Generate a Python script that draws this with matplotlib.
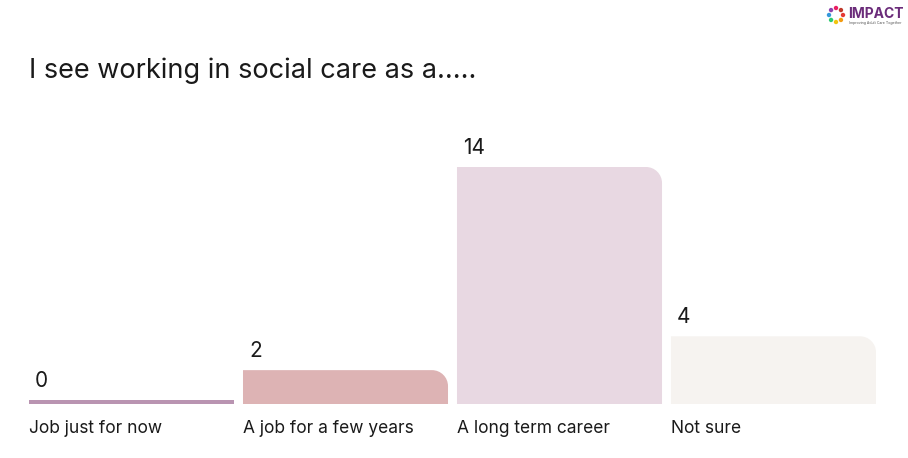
import numpy as np
import matplotlib.pyplot as plt
from matplotlib.path import Path
from matplotlib.patches import PathPatch, Circle

# Data
categories = ["Job just for now", "A job for a few years", "A long term career", "Not sure"]
counts = [0, 2, 14, 4]
colors = ["#b994b1", "#ddb3b4", "#e8d8e2", "#f6f3f0"]
title = "I see working in social care as a....."

plt.rcParams['font.family'] = ['Inter', 'DejaVu Sans']

W, H = 908, 458
fig = plt.figure(figsize=(W / 100, H / 100), dpi=100)
# axes box in pixels: left 29, right 876, bottom 404, top 167
ax = fig.add_axes([29 / W, (H - 404) / H, 847 / W, 237 / H])
ax.set_xlim(-0.479, 3.479)
ax.set_ylim(0, 14)
ax.axis('off')

bar_w = 0.958
px_x = 3.958 / 847   # data units per pixel
px_y = 14 / 237
r_px = 16


def rounded_bar(x0, w, h, col):
    # rectangle with rounded top-right corner
    rx, ry = r_px * px_x, min(r_px * px_y, h)
    k = 0.5523
    verts = [(x0, 0), (x0 + w, 0), (x0 + w, h - ry),
             (x0 + w, h - ry + k * ry), (x0 + w - rx + k * rx, h), (x0 + w - rx, h),
             (x0, h), (x0, 0)]
    codes = [Path.MOVETO, Path.LINETO, Path.LINETO,
             Path.CURVE4, Path.CURVE4, Path.CURVE4,
             Path.LINETO, Path.CLOSEPOLY]
    return PathPatch(Path(verts, codes), facecolor=col, edgecolor='none')


for i, (cat, v) in enumerate(zip(categories, counts)):
    x0 = i - bar_w / 2
    if v == 0:
        ax.bar(i, 4 * px_y, width=bar_w, bottom=0, color=colors[i])
        top = 4 * px_y
    else:
        ax.add_patch(rounded_bar(x0, bar_w, v, colors[i]))
        top = v
    ax.text(x0 + 6 * px_x, top + 13 * px_y, str(v), fontsize=15,
            color='#1a1a1a', ha='left', va='baseline')
    ax.text(x0, -16 * px_y, cat, fontsize=12.5, color='#1a1a1a',
            ha='left', va='top')

fig.text(29 / W, 1 - 78 / H, title, fontsize=19.5, color='#1a1a1a',
         ha='left', va='baseline')

# small logo top right
lax = fig.add_axes([0, 0, 1, 1], zorder=-1)
lax.set_xlim(0, W)
lax.set_ylim(H, 0)
lax.axis('off')
petal_cols = ["#e53935", "#f39c12", "#f1c40f", "#2ecc71", "#3498db", "#8e44ad", "#e91e63", "#c0392b"]
for j, c in enumerate(petal_cols):
    a = 2 * np.pi * j / len(petal_cols)
    lax.add_patch(Circle((836 + 7 * np.cos(a), 15 + 7 * np.sin(a)), 2.2, color=c, lw=0))
lax.text(848, 18, "IMPACT", fontsize=10, fontweight='bold', color='#6b2c7a',
         ha='left', va='baseline')
lax.text(849, 24, "Improving Adult Care Together", fontsize=2.6, color='#555555',
         ha='left', va='baseline')

fig.savefig('out.png', dpi=100, facecolor='white')
